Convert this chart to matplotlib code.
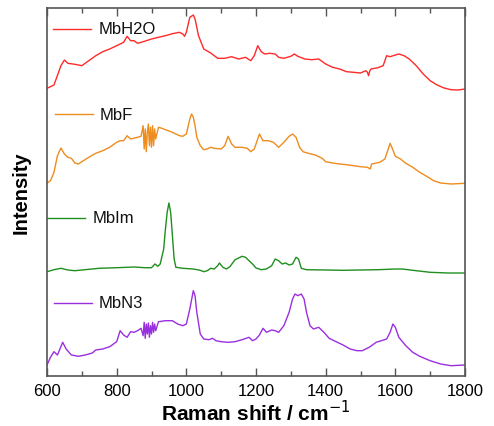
import matplotlib
matplotlib.use("Agg")
import matplotlib.pyplot as plt
import numpy as np

plt.rcParams["font.family"] = ["Liberation Sans", "DejaVu Sans"]

# ---- data (stacked intensities, arbitrary units) ----
h2o_x = [600, 620, 640, 650, 660, 680, 700, 720, 740, 760, 780, 800, 820, 830, 840, 850, 860, 880, 900, 920,
         940, 960, 980, 990, 995, 1000, 1010, 1020, 1025, 1035, 1050, 1070, 1090, 1110, 1130, 1150, 1170, 1185,
         1195, 1205, 1215, 1225, 1240, 1255, 1265, 1280, 1290, 1300, 1310, 1320, 1340, 1360, 1380, 1400, 1420,
         1440, 1460, 1480, 1500, 1515, 1520, 1523, 1527, 1530, 1550, 1565, 1575, 1585, 1600, 1610, 1625, 1640,
         1660, 1680, 1700, 1720, 1740, 1760, 1780, 1800]
h2o_y = [287.7, 291, 310.3, 316, 312.7, 311.7, 310.3, 315.3, 320.3, 324.3, 327, 330.3, 333.7, 339.7, 335.3,
         335.3, 332.7, 334.7, 337, 338.7, 340.3, 342.3, 343.7, 342, 339.7, 343.7, 358.7, 361, 357, 340.3, 327,
         323, 317.7, 317.7, 319.3, 317, 318.7, 315.3, 320.3, 330.3, 324.3, 322, 322.7, 322, 318.7, 317.7, 318.7,
         319.7, 322, 319.7, 317, 316.3, 317, 312, 308.7, 307, 304.3, 303.7, 303, 305.3, 303.7, 300.3, 305.3,
         307, 308.3, 310.3, 320.3, 319.3, 321, 322, 320.3, 317, 310.3, 302, 295.3, 291, 288, 286.3, 286, 287]

f_x = [600, 610, 620, 630, 640, 650, 660, 670, 680, 690, 700, 720, 740, 760, 780, 800, 810, 820, 830, 840, 860,
       870, 876, 879, 882, 885, 888, 891, 894, 897, 900, 903, 906, 909, 912, 920, 930, 940, 960, 980, 990, 1000,
       1010, 1015, 1020, 1025, 1030, 1040, 1050, 1060, 1070, 1080, 1100, 1110, 1120, 1130, 1140, 1160, 1175,
       1185, 1195, 1205, 1210, 1220, 1235, 1250, 1265, 1280, 1295, 1305, 1315, 1325, 1335, 1350, 1370, 1390,
       1400, 1420, 1440, 1460, 1480, 1500, 1520, 1528, 1532, 1555, 1570, 1578, 1585, 1592, 1600, 1615, 1630,
       1650, 1670, 1690, 1710, 1730, 1760, 1800]
f_y = [193, 195.3, 203.7, 220.3, 228, 222, 218.7, 217.7, 213, 212, 214.3, 218.7, 222.7, 225.3, 228.7, 233.7,
       235.3, 235.3, 240.3, 237, 238.7, 239.7, 250.3, 227, 247, 224.3, 243.7, 252, 230.3, 248.7, 228.7, 250.3,
       230.3, 247, 237, 248.7, 247.7, 246.3, 243.7, 240.3, 239.7, 242, 257, 262, 258.7, 250.3, 238.7, 230.3,
       226.3, 227, 228.7, 227.7, 227, 230.3, 239.7, 232, 228.7, 228.7, 227.7, 224.3, 227, 237, 242, 235.3,
       235.3, 233.7, 228.7, 233.7, 239.7, 242, 238.7, 228.7, 224.3, 222.7, 221, 217.7, 214.3, 213, 212, 211.3,
       210.3, 209.3, 208.7, 207, 212, 213.7, 217, 225.3, 232.7, 227, 219.7, 217, 212.7, 208.7, 203.7, 199.7,
       195.3, 193, 192, 192.7]

im_x = [600, 620, 640, 660, 680, 700, 750, 800, 850, 880, 900, 910, 918, 925, 935, 940, 945, 950, 955, 960, 965,
        970, 990, 1020, 1040, 1050, 1060, 1070, 1080, 1090, 1095, 1105, 1115, 1125, 1140, 1160, 1170, 1180, 1190,
        1200, 1215, 1230, 1245, 1255, 1265, 1275, 1285, 1295, 1305, 1315, 1322, 1330, 1345, 1400, 1450, 1500,
        1550, 1600, 1620, 1650, 1700, 1750, 1800]
im_y = [104.3, 106.3, 107.7, 106, 105.3, 106, 107.7, 108.3, 109, 108.3, 108.3, 112, 109.7, 112, 127, 147, 163.7,
        173, 163.7, 140.3, 117, 108.7, 107.7, 107, 105.7, 104.3, 105.3, 107.7, 107, 110.3, 113, 108.7, 107,
        109.3, 116.3, 119.7, 118.7, 115.3, 112, 108, 106.3, 107, 110.3, 117, 115.3, 112, 113, 111, 112, 118.7,
        117, 107.7, 106.3, 106, 105.7, 106, 106.3, 107, 107, 105.7, 103.7, 103, 103]

n3_x = [600, 610, 620, 630, 645, 655, 670, 690, 710, 730, 740, 760, 780, 800, 810, 820, 830, 840, 850, 860, 870,
        876, 879, 882, 885, 888, 891, 894, 897, 900, 903, 906, 909, 912, 920, 940, 960, 975, 990, 1000, 1010,
        1020, 1025, 1030, 1040, 1050, 1065, 1075, 1085, 1100, 1120, 1140, 1160, 1180, 1190, 1200, 1210, 1220,
        1230, 1245, 1255, 1265, 1280, 1295, 1305, 1312, 1320, 1330, 1338, 1345, 1355, 1365, 1380, 1395, 1410,
        1430, 1450, 1470, 1490, 1505, 1525, 1545, 1560, 1575, 1585, 1593, 1600, 1610, 1630, 1650, 1670, 1700,
        1730, 1760, 1800]
n3_y = [11, 18.7, 24.3, 21, 33.7, 27, 21, 19.7, 21, 23, 26, 27, 29.3, 34.3, 45.3, 41, 38.7, 44.3, 43.7, 45.3,
        47.7, 40.3, 53.7, 37.7, 52, 42, 53, 38.7, 50.3, 42, 53.7, 43.7, 52, 45.3, 54.3, 55.3, 55.3, 52, 50.3, 52,
        67, 85.3, 80.3, 63.7, 42, 37, 36.3, 37.7, 35.3, 34.3, 33.7, 34.3, 36.3, 38.7, 35.3, 37, 41, 47.7, 43.7,
        46, 45.3, 43.7, 50.3, 63.7, 77, 82, 80.3, 82, 77, 63.7, 50.3, 47, 48.7, 43.7, 37.7, 34.3, 31, 27, 25.3,
        25.3, 28.7, 33.7, 35.3, 37, 43.7, 52, 48.7, 38.7, 30.3, 23.7, 19.7, 15.3, 12, 10.3, 11]

series_names = ["MbH2O", "MbF", "MbIm", "MbN3"]
series_colors = ["#ff2a2a", "#ee8c1e", "#1f8f1f", "#9a2fe0"]
label_levels = [347, 262, 158, 73]
xticks = [600, 800, 1000, 1200, 1400, 1600, 1800]

fig = plt.figure(figsize=(4.94, 4.27), dpi=100)
ax = fig.add_axes([47 / 494, 1 - 377 / 427, 418 / 494, 368 / 427])

xs = [h2o_x, f_x, im_x, n3_x]
ys = [h2o_y, f_y, im_y, n3_y]
for x, y, c in zip(xs, ys, series_colors):
    ax.plot(x, y, color=c, lw=1.0)

# inline labels with short line segments
lx0 = [617, 622, 600, 619]
for name, c, lev, x0 in zip(series_names, series_colors, label_levels, lx0):
    ax.plot([x0, x0 + 110], [lev, lev], color=c, lw=1.0)
    ax.text(x0 + 130, lev, name, fontsize=12, va="center", ha="left", color="#111111")

ax.set_xlim(600, 1800)
ax.set_ylim(0, 368)
ax.set_xticks(xticks)
ax.set_xticks(np.arange(700, 1800, 200), minor=True)
ax.set_yticks([])
ax.tick_params(axis="x", which="major", direction="in", length=6, top=True, width=1, color="#555555",
               labelsize=12, pad=5)
ax.tick_params(axis="x", which="minor", direction="in", length=3.5, top=True, width=1, color="#555555")
for s in ax.spines.values():
    s.set_color("#555555")
    s.set_linewidth(1.2)

ax.set_xlabel("Raman shift / cm$^{-1}$", fontsize=15, fontweight="bold", labelpad=1)
ax.set_ylabel("Intensity", fontsize=14.5, fontweight="bold", labelpad=12)

fig.savefig("out.png", dpi=100)
